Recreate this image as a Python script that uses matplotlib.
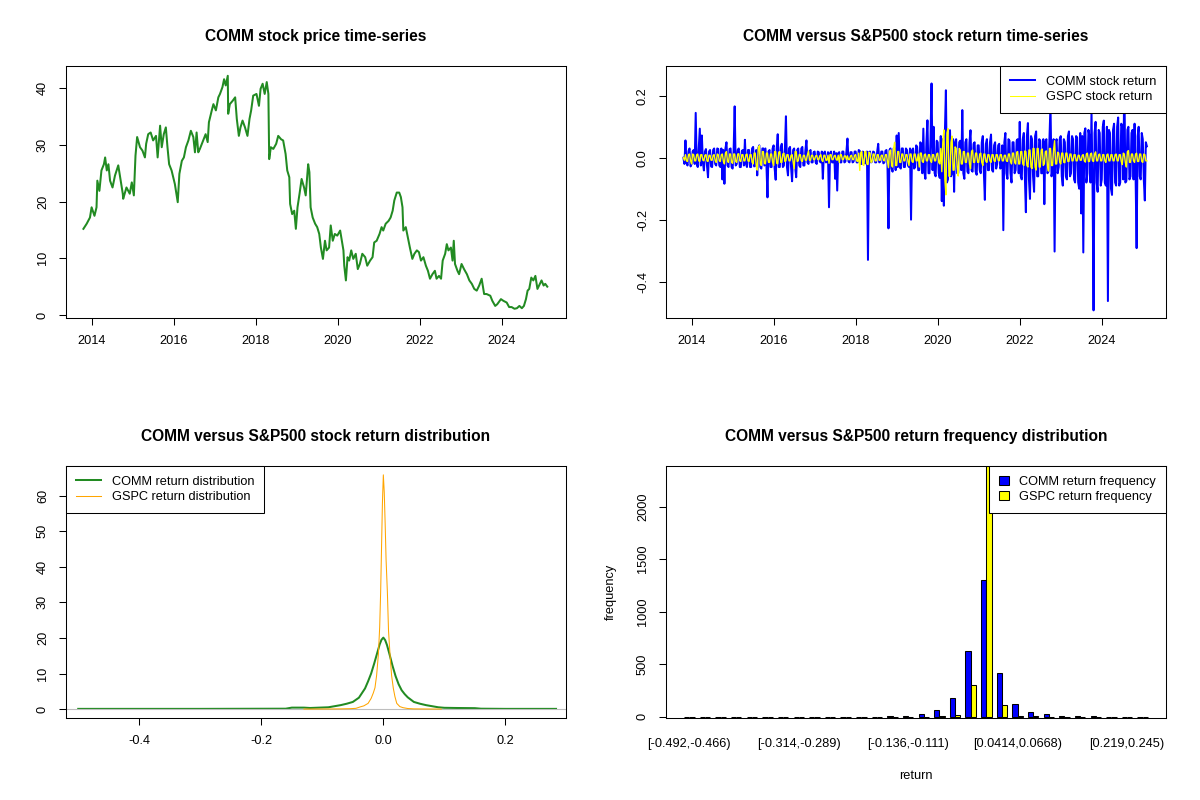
import matplotlib
matplotlib.use("Agg")
import matplotlib.pyplot as plt
import numpy as np
from matplotlib.lines import Line2D
from matplotlib.patches import Patch

plt.rcParams['font.family'] = ['Liberation Sans', 'DejaVu Sans']

# ---------------- data: COMM price ----------------
price_years = [2013.80, 2013.88, 2013.96, 2014.00, 2014.07, 2014.12, 2014.14, 2014.19, 2014.24, 2014.30,
               2014.33, 2014.37, 2014.41, 2014.45, 2014.51, 2014.57, 2014.65, 2014.69, 2014.76, 2014.77,
               2014.85, 2014.93, 2014.98, 2015.03, 2015.07, 2015.11, 2015.18, 2015.24, 2015.30, 2015.33,
               2015.38, 2015.44, 2015.50, 2015.57, 2015.61, 2015.67, 2015.71, 2015.76, 2015.81, 2015.85,
               2015.89, 2015.95, 2016.03, 2016.10, 2016.14, 2016.20, 2016.25, 2016.30, 2016.36, 2016.42,
               2016.48, 2016.52, 2016.56, 2016.60, 2016.64, 2016.72, 2016.78, 2016.83, 2016.86, 2016.93,
               2016.97, 2017.03, 2017.09, 2017.13, 2017.19, 2017.23, 2017.27, 2017.32, 2017.33, 2017.37,
               2017.44, 2017.50, 2017.54, 2017.59, 2017.63, 2017.68, 2017.74, 2017.80, 2017.85, 2017.89,
               2017.94, 2018.02, 2018.08, 2018.12, 2018.17, 2018.22, 2018.27, 2018.31, 2018.33, 2018.37,
               2018.43, 2018.50, 2018.55, 2018.62, 2018.67, 2018.73, 2018.77, 2018.82, 2018.84, 2018.89,
               2018.94, 2018.98, 2019.02, 2019.07, 2019.12, 2019.18, 2019.22, 2019.28, 2019.31, 2019.34,
               2019.39, 2019.45, 2019.50, 2019.55, 2019.59, 2019.64, 2019.69, 2019.73, 2019.79, 2019.83,
               2019.88, 2019.93, 2019.99, 2020.06, 2020.10, 2020.14, 2020.16, 2020.20, 2020.24, 2020.28,
               2020.33, 2020.38, 2020.44, 2020.49, 2020.54, 2020.60, 2020.67, 2020.72, 2020.79, 2020.85,
               2020.89, 2020.95, 2021.02, 2021.07, 2021.11, 2021.17, 2021.24, 2021.29, 2021.34, 2021.38,
               2021.44, 2021.50, 2021.54, 2021.58, 2021.60, 2021.66, 2021.71, 2021.76, 2021.82, 2021.87,
               2021.93, 2021.98, 2022.03, 2022.09, 2022.15, 2022.20, 2022.25, 2022.31, 2022.37, 2022.41,
               2022.47, 2022.52, 2022.56, 2022.62, 2022.66, 2022.70, 2022.76, 2022.80, 2022.83, 2022.86,
               2022.92, 2022.96, 2023.02, 2023.08, 2023.15, 2023.21, 2023.27, 2023.33, 2023.39, 2023.45,
               2023.51, 2023.57, 2023.63, 2023.72, 2023.77, 2023.84, 2023.89, 2023.98, 2024.04, 2024.12,
               2024.18, 2024.24, 2024.31, 2024.37, 2024.43, 2024.49, 2024.54, 2024.59, 2024.63, 2024.67,
               2024.72, 2024.77, 2024.82, 2024.87, 2024.93, 2024.97, 2025.02, 2025.06, 2025.11]
price_values = [15.2, 16.1, 17.2, 19.0, 17.5, 19.0, 23.7, 21.9, 25.5, 26.6,
                27.8, 25.5, 26.6, 23.7, 22.5, 24.6, 26.4, 24.6, 21.4, 20.5,
                22.5, 21.4, 23.4, 21.1, 28.1, 31.4, 29.6, 29.0, 27.8, 30.2,
                31.9, 32.2, 30.8, 31.6, 27.8, 33.4, 29.6, 31.9, 33.1, 29.6,
                26.6, 25.5, 23.1, 19.9, 24.9, 27.2, 27.8, 29.6, 30.8, 32.5,
                31.4, 28.7, 32.2, 28.7, 29.3, 30.8, 31.9, 30.5, 34.0, 36.1,
                37.2, 36.1, 38.4, 39.0, 40.2, 41.6, 40.5, 42.2, 35.5, 37.2,
                37.8, 38.4, 34.6, 31.6, 33.1, 34.3, 33.1, 31.6, 34.6, 36.1,
                38.7, 39.0, 36.9, 39.9, 40.8, 39.0, 41.1, 39.0, 27.5, 29.6,
                29.3, 30.2, 31.6, 31.0, 30.8, 28.4, 25.5, 24.3, 19.6, 17.8,
                18.4, 15.2, 19.0, 21.4, 24.0, 22.5, 21.1, 26.6, 25.2, 19.0,
                17.2, 16.1, 15.5, 14.3, 11.9, 9.9, 13.1, 11.4, 11.9, 15.8,
                13.1, 14.3, 14.0, 14.9, 13.1, 11.4, 8.7, 6.1, 10.2, 9.6,
                11.4, 9.9, 10.8, 8.1, 9.0, 10.8, 10.2, 8.7, 9.6, 10.2,
                12.8, 13.1, 14.3, 15.5, 14.9, 16.1, 16.6, 17.2, 18.4, 20.2,
                21.6, 21.6, 20.8, 19.0, 14.9, 15.5, 13.7, 11.9, 9.9, 10.8,
                11.4, 11.1, 9.6, 10.2, 8.7, 7.8, 6.4, 7.2, 7.8, 6.4,
                6.9, 6.4, 9.6, 10.8, 12.5, 11.4, 11.9, 9.6, 13.1, 9.0,
                7.8, 7.2, 9.0, 8.1, 7.2, 6.1, 5.5, 4.6, 4.3, 5.2,
                6.4, 3.7, 3.7, 3.4, 2.5, 1.6, 1.9, 2.8, 2.5, 2.2,
                1.4, 1.4, 1.1, 1.2, 1.6, 1.2, 1.6, 2.8, 4.3, 4.6,
                6.6, 6.1, 6.9, 4.6, 5.5, 6.1, 5.2, 5.5, 5.0]

# ---------------- data: returns, one row per year starting 2013.80, sampled every 0.025 year ----------------
ret_start_year = 2013.80
ret_step_year = 0.025
comm_ret_rows = [
    [0.0, -0.02, 0.056, -0.015, -0.025, 0.022, 0.03, -0.028, -0.02, 0.02,
     0.025, -0.02, 0.145, -0.02, -0.03, 0.03, 0.094, -0.025, 0.072, -0.015,
     -0.041, 0.02, 0.028, -0.025, -0.063, 0.02, 0.025, -0.028, -0.03, 0.025,
     0.03, -0.02, -0.025, 0.03, 0.028, -0.025, -0.03, 0.03, -0.07, 0.025],
    [-0.084, 0.03, 0.05, -0.025, -0.03, 0.028, 0.03, -0.03, -0.035, 0.025,
     0.166, -0.025, -0.02, 0.025, 0.03, -0.03, -0.03, 0.022, 0.025, -0.025,
     0.058, -0.02, -0.03, 0.025, 0.025, -0.03, -0.03, 0.03, 0.035, -0.028,
     -0.025, 0.025, -0.057, 0.03, 0.04, -0.03, -0.035, 0.03, 0.03, -0.025],
    [0.03, -0.025, -0.128, 0.02, 0.025, -0.03, -0.03, 0.03, 0.04, -0.035,
     -0.071, 0.03, 0.076, -0.03, -0.03, 0.035, 0.045, -0.03, -0.025, 0.03,
     0.134, -0.03, -0.057, 0.03, 0.035, -0.03, -0.076, 0.025, 0.03, -0.03,
     -0.063, 0.025, 0.03, -0.025, -0.03, 0.03, 0.035, -0.025, -0.025, 0.025],
    [0.056, -0.015, -0.02, 0.02, 0.025, -0.015, -0.015, 0.018, 0.02, -0.015,
     -0.02, 0.02, 0.018, -0.012, -0.015, 0.02, -0.068, 0.015, 0.02, -0.015,
     -0.012, 0.018, -0.16, 0.015, 0.02, -0.015, -0.015, 0.02, -0.068, 0.015,
     -0.106, 0.015, 0.018, -0.015, -0.015, 0.02, 0.02, -0.015, -0.012, 0.02],
    [0.062, -0.012, -0.015, 0.018, 0.018, -0.015, -0.012, 0.02, 0.02, -0.015,
     -0.015, 0.025, 0.022, -0.02, -0.02, 0.02, 0.015, -0.018, -0.018, 0.02,
     -0.33, 0.018, 0.02, -0.015, -0.012, 0.02, 0.018, -0.015, -0.015, 0.02,
     0.045, -0.015, -0.012, 0.02, 0.02, -0.018, -0.015, 0.022, 0.025, -0.02],
    [-0.228, 0.025, 0.03, -0.035, -0.045, 0.03, 0.03, -0.04, 0.072, -0.03,
     0.08, -0.03, -0.035, 0.03, 0.03, -0.03, -0.03, 0.03, 0.025, -0.025,
     -0.03, 0.03, -0.20, 0.025, 0.03, -0.035, -0.03, 0.04, 0.035, -0.04,
     -0.04, 0.05, 0.045, -0.05, 0.094, -0.045, -0.068, 0.05, 0.121, -0.05],
    [-0.05, 0.06, 0.24, -0.04, 0.10, -0.05, -0.06, 0.055, 0.05, -0.05,
     -0.065, 0.07, -0.14, 0.06, -0.155, 0.08, 0.218, -0.08, -0.07, 0.06,
     0.089, -0.06, -0.05, 0.06, -0.11, 0.05, 0.06, -0.05, -0.05, 0.05,
     0.055, -0.04, 0.154, -0.05, -0.068, 0.05, 0.06, -0.045, -0.05, 0.05],
    [0.089, -0.04, -0.045, 0.045, 0.05, -0.045, -0.055, 0.04, 0.04, -0.04,
     -0.05, 0.05, 0.07, -0.045, -0.136, 0.045, 0.06, -0.04, -0.04, 0.05,
     0.075, -0.04, -0.045, 0.04, 0.05, -0.035, -0.02, 0.04, 0.045, -0.035,
     -0.03, 0.04, -0.234, 0.05, 0.08, -0.05, -0.068, 0.06, 0.055, -0.05],
    [-0.08, 0.05, 0.05, -0.05, -0.04, 0.055, 0.06, -0.05, 0.116, -0.06,
     -0.07, 0.06, 0.08, -0.06, -0.176, 0.07, 0.112, -0.07, -0.133, 0.07,
     0.06, -0.06, -0.11, 0.07, 0.085, -0.06, -0.06, 0.06, 0.055, -0.05,
     -0.05, 0.06, -0.15, 0.05, 0.06, -0.05, -0.045, 0.06, 0.17, -0.06],
    [-0.04, 0.06, -0.303, 0.05, 0.06, -0.05, -0.03, 0.06, 0.07, -0.06,
     -0.09, 0.06, 0.05, -0.06, -0.07, 0.07, 0.085, -0.06, -0.05, 0.07,
     0.06, -0.07, -0.08, 0.07, 0.065, -0.08, -0.1, 0.08, -0.18, 0.07,
     -0.306, 0.08, 0.095, -0.08, -0.05, 0.09, 0.07, -0.08, 0.15, -0.08],
    [-0.493, 0.08, 0.116, -0.08, -0.11, 0.09, 0.08, -0.09, -0.07, 0.1,
     0.12, -0.08, -0.09, 0.1, -0.463, 0.09, 0.08, -0.1, -0.12, 0.09,
     0.11, -0.08, -0.09, 0.1, 0.13, -0.09, -0.08, 0.11, 0.1, -0.07,
     0.27, -0.08, -0.075, 0.09, 0.1, -0.07, -0.06, 0.08, 0.09, -0.07],
    [0.11, -0.06, -0.292, 0.07, 0.1, -0.06, -0.07, 0.08, 0.06, -0.07,
     -0.138, 0.05, 0.037],
]
gspc_ret_rows = [
    [0.0, -0.008, 0.01, -0.01, -0.012, 0.01, 0.012, -0.01, -0.02, 0.012,
     0.01, -0.01, -0.01, 0.01, 0.012, -0.01, -0.012, 0.01, 0.01, -0.008,
     -0.01, 0.008, 0.01, -0.01, -0.012, 0.008, 0.008, -0.008, -0.008, 0.008,
     0.01, -0.01, -0.015, 0.012, 0.01, -0.01, -0.012, 0.01, 0.012, -0.012],
    [-0.02, 0.015, 0.02, -0.012, -0.015, 0.012, 0.012, -0.015, -0.018, 0.012,
     0.012, -0.012, -0.015, 0.012, 0.013, -0.01, -0.012, 0.01, 0.01, -0.01,
     -0.01, 0.01, 0.012, -0.01, -0.012, 0.01, 0.01, -0.015, -0.02, 0.015,
     0.015, -0.025, -0.04, 0.03, 0.039, -0.02, -0.025, 0.02, 0.02, -0.018],
    [-0.02, 0.015, 0.015, -0.015, -0.015, 0.012, 0.012, -0.015, -0.025, 0.02,
     0.02, -0.018, -0.02, 0.018, 0.02, -0.015, -0.015, 0.012, 0.015, -0.012,
     -0.01, 0.01, 0.01, -0.01, -0.01, 0.008, 0.01, -0.012, -0.036, 0.02,
     0.02, -0.012, -0.01, 0.01, 0.01, -0.01, -0.012, 0.008, 0.008, -0.008],
    [-0.008, 0.01, 0.022, -0.008, -0.008, 0.008, 0.008, -0.006, -0.006, 0.006,
     0.008, -0.006, -0.006, 0.006, 0.01, -0.008, -0.012, 0.008, 0.008, -0.008,
     -0.008, 0.008, -0.018, 0.01, 0.01, -0.006, -0.006, 0.006, 0.008, -0.006,
     -0.008, 0.008, -0.015, 0.01, 0.01, -0.006, -0.006, 0.006, 0.006, -0.006],
    [0.006, -0.006, -0.006, 0.006, 0.008, -0.006, -0.006, 0.008, 0.01, -0.01,
     -0.012, 0.015, -0.041, 0.017, 0.02, -0.022, -0.025, 0.02, 0.02, -0.02,
     -0.022, 0.018, 0.015, -0.015, -0.012, 0.012, 0.012, -0.01, -0.01, 0.01,
     0.01, -0.008, -0.008, 0.008, 0.008, -0.008, -0.01, 0.01, 0.01, -0.01],
    [-0.032, 0.02, 0.025, -0.025, -0.03, 0.03, 0.05, -0.025, -0.025, 0.02,
     0.02, -0.015, -0.015, 0.012, 0.012, -0.01, -0.01, 0.01, 0.01, -0.012,
     -0.025, 0.012, 0.012, -0.012, -0.015, 0.012, 0.012, -0.01, -0.01, 0.012,
     -0.03, 0.015, 0.015, -0.012, -0.015, 0.01, 0.012, -0.01, -0.01, 0.01],
    [0.01, -0.01, -0.015, 0.01, 0.01, -0.01, -0.01, 0.012, 0.015, -0.015,
     -0.02, 0.03, -0.045, 0.05, 0.09, -0.07, -0.12, 0.08, 0.094, -0.06,
     -0.058, 0.05, 0.07, -0.04, -0.04, 0.035, 0.03, -0.03, -0.059, 0.03,
     0.025, -0.02, -0.02, 0.02, 0.02, -0.015, -0.015, 0.015, 0.015, -0.02],
    [-0.035, 0.02, 0.025, -0.015, -0.015, 0.015, 0.015, -0.015, -0.015, 0.012,
     0.015, -0.015, -0.025, 0.012, 0.012, -0.012, -0.015, 0.01, 0.01, -0.01,
     -0.015, 0.01, 0.01, -0.01, -0.012, 0.01, 0.01, -0.008, -0.01, 0.01,
     0.01, -0.01, -0.01, 0.008, 0.008, -0.01, -0.012, 0.012, 0.012, -0.012],
    [-0.02, 0.015, 0.015, -0.015, -0.02, 0.018, 0.02, -0.02, -0.02, 0.02,
     0.02, -0.02, -0.025, 0.022, 0.02, -0.025, -0.03, 0.025, 0.025, -0.03,
     -0.035, 0.03, 0.03, -0.03, -0.04, 0.03, 0.03, -0.03, -0.03, 0.025,
     0.028, -0.025, -0.02, 0.02, 0.022, -0.025, -0.043, 0.03, 0.03, -0.025],
    [-0.025, 0.025, 0.055, -0.02, -0.02, 0.018, 0.015, -0.015, -0.02, 0.015,
     0.015, -0.015, -0.016, 0.015, 0.015, -0.012, -0.012, 0.012, 0.012, -0.01,
     -0.01, 0.01, 0.01, -0.01, -0.01, 0.008, 0.008, -0.008, -0.008, 0.008,
     0.01, -0.01, -0.014, 0.012, 0.015, -0.012, -0.012, 0.012, 0.015, -0.01],
    [-0.012, 0.012, 0.019, -0.01, -0.01, 0.01, 0.012, -0.01, -0.01, 0.01,
     0.01, -0.01, -0.015, 0.01, 0.012, -0.01, -0.01, 0.01, 0.01, -0.01,
     -0.01, 0.01, 0.012, -0.01, -0.01, 0.01, 0.01, -0.012, -0.022, 0.015,
     0.012, -0.015, -0.03, 0.02, 0.023, -0.015, -0.015, 0.012, 0.012, -0.01],
    [-0.015, 0.012, 0.015, -0.012, -0.012, 0.012, 0.012, -0.012, -0.015, 0.012,
     0.01, -0.01, -0.01],
]

# ---------------- data: densities ----------------
comm_dens_x = [-0.50, -0.30, -0.16, -0.15, -0.13, -0.12, -0.09, -0.08, -0.07, -0.06, -0.05, -0.04, -0.03,
               -0.025, -0.02, -0.015, -0.01, -0.006, -0.003, 0.0, 0.003, 0.006, 0.01, 0.015, 0.02, 0.025,
               0.03, 0.035, 0.04, 0.05, 0.06, 0.07, 0.08, 0.09, 0.10, 0.12, 0.15, 0.16, 0.20, 0.283]
comm_dens_y = [0.05, 0.05, 0.1, 0.4, 0.4, 0.3, 0.5, 0.8, 1.1, 1.5, 2.0, 3.2, 5.8,
               7.8, 10.0, 12.8, 15.8, 18.2, 19.5, 20.1, 19.4, 18.0, 15.5, 12.2, 9.3, 7.0,
               5.3, 4.2, 3.3, 2.0, 1.5, 1.1, 0.8, 0.5, 0.35, 0.3, 0.25, 0.1, 0.05, 0.05]
gspc_dens_x = [-0.13, -0.09, -0.07, -0.055, -0.045, -0.038, -0.032, -0.025, -0.02, -0.0165, -0.0137,
               -0.011, -0.0082, -0.006, -0.0044, -0.003, -0.0015, 0.0, 0.0015, 0.003, 0.0045, 0.0066,
               0.0085, 0.011, 0.0135, 0.0164, 0.019, 0.022, 0.027, 0.032, 0.04, 0.05, 0.07, 0.095]
gspc_dens_y = [0.0, 0.02, 0.05, 0.1, 0.2, 0.6, 0.9, 1.6, 3.0, 4.5, 6.0,
               9.5, 15.2, 23.0, 33.0, 45.0, 58.0, 65.9, 61.0, 52.0, 42.0, 33.0,
               22.0, 15.2, 9.5, 5.8, 3.5, 1.6, 0.7, 0.4, 0.15, 0.05, 0.02, 0.0]

# ---------------- data: histogram ----------------
bin_labels = ["[-0.492,-0.466)", "[-0.466,-0.441)", "[-0.441,-0.416)", "[-0.416,-0.39)", "[-0.39,-0.365)",
              "[-0.365,-0.339)", "[-0.339,-0.314)", "[-0.314,-0.289)", "[-0.289,-0.263)", "[-0.263,-0.238)",
              "[-0.238,-0.212)", "[-0.212,-0.187)", "[-0.187,-0.162)", "[-0.162,-0.136)", "[-0.136,-0.111)",
              "[-0.111,-0.0855)", "[-0.0855,-0.0601)", "[-0.0601,-0.0347)", "[-0.0347,-0.0093)", "[-0.0093,0.0161)",
              "[0.0161,0.0414)", "[0.0414,0.0668)", "[0.0668,0.0922)", "[0.0922,0.118)", "[0.118,0.143)",
              "[0.143,0.168)", "[0.168,0.194)", "[0.194,0.219)", "[0.219,0.245)", "[0.245,0.27]"]
comm_freq = [1, 0, 0, 0, 0, 0, 1, 3, 0, 0, 0, 0, 0, 5, 8, 30, 65, 180, 630, 1300,
             420, 125, 48, 30, 8, 6, 8, 1, 1, 1]
gspc_freq = [0, 0, 0, 0, 0, 0, 0, 0, 0, 0, 0, 0, 0, 0, 1, 2, 5, 20, 300, 2390,
             115, 10, 8, 3, 0, 0, 0, 0, 0, 0]
shown_bin_labels = [0, 7, 14, 21, 28]

# ---------------- figure ----------------
W, H = 1200, 800
fig = plt.figure(figsize=(12, 8), dpi=100, facecolor='white')


def add_axes(l, t, r, b):
    return fig.add_axes([l / W, 1 - b / H, (r - l) / W, (b - t) / H])


TICK_FS = 9.2
TITLE_FS = 11.2


def style(ax, yticks, ylabels, xticks=None, xlabels=None, xlen=5):
    for s in ax.spines.values():
        s.set_linewidth(0.75)
        s.set_color('black')
    ax.set_yticks(yticks)
    ax.set_yticklabels(ylabels, rotation=90, va='center', fontsize=TICK_FS)
    if xticks is not None:
        ax.set_xticks(xticks)
        ax.set_xticklabels(xlabels, fontsize=TICK_FS)
    ax.tick_params(axis='y', direction='out', length=5, width=0.75, pad=7)
    ax.tick_params(axis='x', direction='out', length=xlen, width=0.75, pad=7 if xlen else 14)


def rows_to_series(rows):
    xs, ys = [], []
    for k, row in enumerate(rows):
        for j, v in enumerate(row):
            xs.append(ret_start_year + k + ret_step_year * j)
            ys.append(v)
    return xs, ys


year_ticks = [2014, 2016, 2018, 2020, 2022, 2024]
year_labels = [str(y) for y in year_ticks]
leg_kw = dict(fontsize=TICK_FS, frameon=True, fancybox=False, framealpha=1, edgecolor='black',
              borderaxespad=0, borderpad=0.8, labelspacing=0.25, handletextpad=0.85)

# --- top-left: price ---
ax1 = add_axes(65.6, 65.6, 566.4, 318.4)
ax1.plot(price_years, price_values, color='#228B22', lw=1.45)
ax1.set_xlim(2013.366, 2025.576)
ax1.set_ylim(-0.6, 44.0)
style(ax1, [0, 10, 20, 30, 40], ['0', '10', '20', '30', '40'], year_ticks, year_labels)
ax1.set_title('COMM stock price time-series', fontsize=TITLE_FS, fontweight='bold', pad=18)

# --- top-right: returns ---
comm_x, comm_y = rows_to_series(comm_ret_rows)
gspc_x, gspc_y = rows_to_series(gspc_ret_rows)
ax2 = add_axes(665.6, 65.6, 1166.4, 318.4)
ax2.plot(comm_x, comm_y, color='#0000FF', lw=1.45)
ax2.plot(gspc_x, gspc_y, color='#FFFF00', lw=1.0)
ax2.set_xlim(2013.366, 2025.576)
ax2.set_ylim(-0.519, 0.2977)
style(ax2, [-0.4, -0.2, 0.0, 0.2], ['-0.4', '-0.2', '0.0', '0.2'], year_ticks, year_labels)
ax2.set_title('COMM versus S&P500 stock return time-series', fontsize=TITLE_FS, fontweight='bold', pad=18)
lg = ax2.legend([Line2D([], [], color='#0000FF', lw=1.45), Line2D([], [], color='#FFFF00', lw=0.75)],
                ['COMM stock return', 'GSPC stock return'], loc='upper right', handlelength=1.95, **leg_kw)
lg.get_frame().set_linewidth(0.75)

# --- bottom-left: densities ---
ax3 = add_axes(65.6, 465.6, 566.4, 718.4)
ax3.plot(comm_dens_x, comm_dens_y, color='#228B22', lw=1.45)
ax3.axhline(0, color='#BEBEBE', lw=0.8)
ax3.plot(gspc_dens_x, gspc_dens_y, color='#FFA500', lw=0.75)
ax3.set_xlim(-0.5207, 0.300)
ax3.set_ylim(-2.63, 68.5)
style(ax3, [0, 10, 20, 30, 40, 50, 60], ['0', '10', '20', '30', '40', '50', '60'],
      [-0.4, -0.2, 0.0, 0.2], ['-0.4', '-0.2', '0.0', '0.2'])
ax3.set_title('COMM versus S&P500 stock return distribution', fontsize=TITLE_FS, fontweight='bold', pad=18)
lg = ax3.legend([Line2D([], [], color='#228B22', lw=1.45), Line2D([], [], color='#FFA500', lw=0.75)],
                ['COMM return distribution', 'GSPC return distribution'], loc='upper left',
                handlelength=1.95, **leg_kw)
lg.get_frame().set_linewidth(0.75)

# --- bottom-right: frequency barplot ---
ax4 = add_axes(665.6, 465.6, 1166.4, 718.4)
n_bins = len(bin_labels)
grp = np.arange(n_bins) * 3
ax4.bar(grp + 1.5, comm_freq, width=1.0, color='#0000FF', edgecolor='black', linewidth=0.75)
ax4.bar(grp + 2.5, gspc_freq, width=1.0, color='#FFFF00', edgecolor='black', linewidth=0.75)
ax4.set_xlim(1 - 3.56, 3 * n_bins + 3.56)
ax4.set_ylim(-15, 2390)
style(ax4, [0, 500, 1000, 1500, 2000], ['0', '500', '1000', '1500', '2000'],
      [grp[i] + 2 for i in shown_bin_labels], [bin_labels[i] for i in shown_bin_labels], xlen=0)
ax4.set_title('COMM versus S&P500 return frequency distribution', fontsize=TITLE_FS, fontweight='bold', pad=18)
ax4.set_ylabel('frequency', fontsize=TICK_FS)
ax4.yaxis.set_label_coords(-0.097, 0.5)
ax4.set_xlabel('return', fontsize=TICK_FS)
ax4.xaxis.set_label_coords(0.5, -0.205)
lg = ax4.legend([Patch(facecolor='#0000FF', edgecolor='black', lw=0.75),
                 Patch(facecolor='#FFFF00', edgecolor='black', lw=0.75)],
                ['COMM return frequency', 'GSPC return frequency'], loc='upper right',
                handlelength=0.75, handleheight=0.7, **leg_kw)
lg.get_frame().set_linewidth(0.75)

fig.savefig('out.png', dpi=100, facecolor='white')
